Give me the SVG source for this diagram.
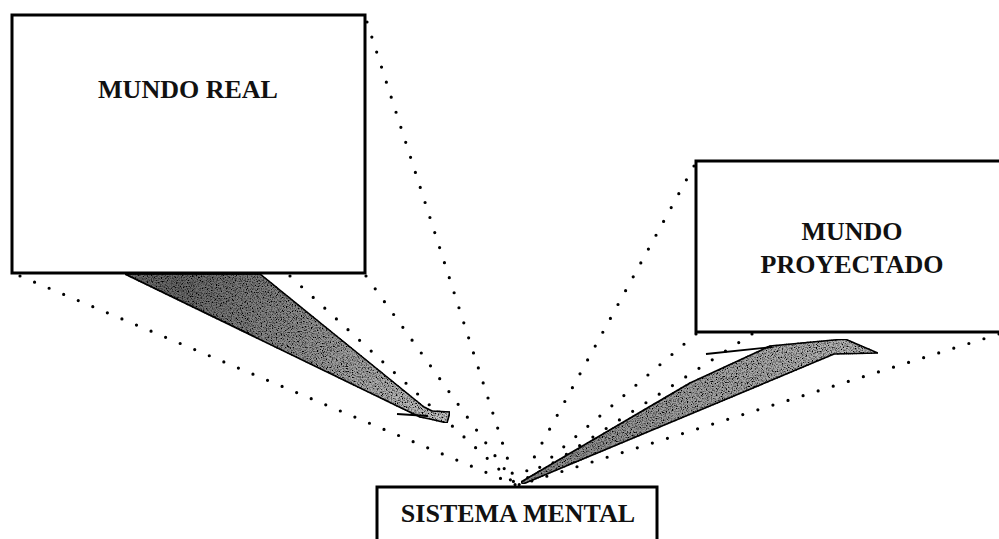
<svg xmlns="http://www.w3.org/2000/svg" width="999" height="539" viewBox="0 0 999 539">
  <style>
    .box { fill: #ffffff; stroke: #000000; stroke-width: 3; }
    .label { font-family: "Liberation Serif", "Times New Roman", serif; font-weight: bold; font-size: 26px; fill: #111111; text-anchor: middle; }
    .ray { fill: none; stroke: #000000; stroke-width: 3.2; stroke-linecap: round; stroke-dasharray: 0 15.8; }
    .wedge { stroke: #000000; stroke-width: 1.6; stroke-linejoin: round; }
    .shaft { stroke: #000000; stroke-width: 1.8; fill: none; }
  </style>
  <defs>
    <linearGradient id="fadeLeft" gradientUnits="userSpaceOnUse" x1="190" y1="274" x2="440" y2="415">
      <stop offset="0" stop-color="#6a6a6a"/>
      <stop offset="1" stop-color="#c4c4c4"/>
    </linearGradient>
    <linearGradient id="fadeRight" gradientUnits="userSpaceOnUse" x1="522" y1="482" x2="870" y2="348">
      <stop offset="0" stop-color="#8a8a8a"/>
      <stop offset="1" stop-color="#b8b8b8"/>
    </linearGradient>
    <!-- dithered speckle texture for the shaded wedges -->
    <filter id="stipple" x="0" y="0" width="1" height="1">
      <feTurbulence type="fractalNoise" baseFrequency="0.8" numOctaves="2" seed="7" result="noise"/>
      <feColorMatrix in="noise" type="matrix" values="0 0 0 0 0  0 0 0 0 0  0 0 0 0 0  3.2 0 0 0 -1.3" result="specks"/>
      <feComposite in="specks" in2="SourceGraphic" operator="in" result="clipped"/>
      <feMerge>
        <feMergeNode in="SourceGraphic"/>
        <feMergeNode in="clipped"/>
      </feMerge>
    </filter>
  </defs>

  <rect width="999" height="539" fill="#ffffff"/>

  <!-- dotted sight lines and shaded arrows -->
  <g id="connectors">
    <line class="ray" x1="20" y1="276" x2="516" y2="485"/>
    <line class="ray" x1="290" y1="276" x2="516" y2="485"/>
    <line class="ray" x1="366" y1="276" x2="516" y2="485"/>
    <line class="ray" x1="367" y1="22" x2="516" y2="485"/>
    <line class="ray" x1="694" y1="166" x2="519" y2="485"/>
    <line class="ray" x1="696" y1="334" x2="519" y2="485"/>
    <line class="ray" x1="752" y1="334" x2="519" y2="485"/>
    <line class="ray" x1="999" y1="334" x2="519" y2="485"/>

    <g id="arrow-real-to-mental">
      <polygon class="wedge" fill="url(#fadeLeft)" filter="url(#stipple)"
        points="125,274 260,274 424,407 432,411 450,412 447,423 430,419 420,417"/>
      <path class="shaft" d="M397,414 L428,416"/>
    </g>
    <g id="arrow-mental-to-projected">
      <polygon class="wedge" fill="url(#fadeRight)" filter="url(#stipple)"
        points="521,482 690,383 770,346 845,339 878,353 834,354 523,484"/>
      <path class="shaft" d="M706,354 L772,347"/>
    </g>
  </g>

  <g id="mundo-real">
    <rect class="box" x="12" y="15" width="353" height="258"/>
    <text class="label" x="188" y="98">MUNDO REAL</text>
  </g>

  <g id="mundo-proyectado">
    <rect class="box" x="696" y="161" width="312" height="171"/>
    <text class="label" x="852" y="240">MUNDO</text>
    <text class="label" x="852" y="273">PROYECTADO</text>
  </g>

  <g id="sistema-mental">
    <rect class="box" x="377" y="487" width="280" height="60"/>
    <text class="label" x="518" y="522">SISTEMA MENTAL</text>
  </g>
</svg>
